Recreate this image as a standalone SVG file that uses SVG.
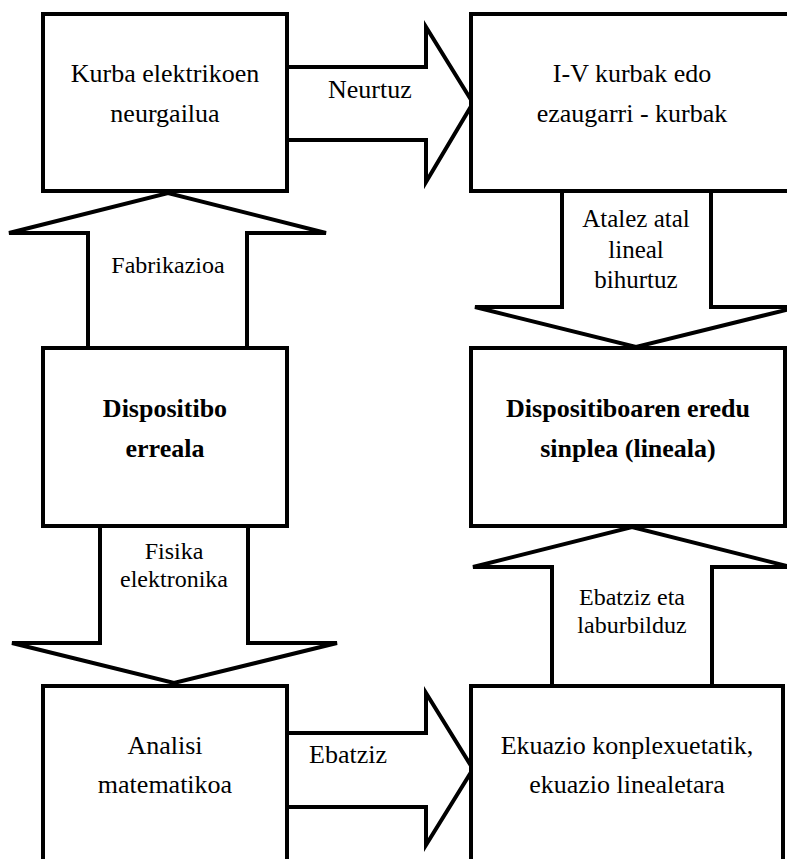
<svg xmlns="http://www.w3.org/2000/svg" width="787" height="859" viewBox="0 0 787 859">
  <style>
    .box { fill: #ffffff; stroke: #000000; stroke-width: 4; }
    .arrow { fill: #ffffff; stroke: #000000; stroke-width: 4; stroke-linejoin: miter; }
    text { font-family: "Tinos", "Times New Roman", "Times", "Liberation Serif", "Noto Serif", "DejaVu Serif", serif; fill: #000000; }
    .t { font-size: 26px; text-anchor: middle; }
    .b { font-size: 26px; font-weight: bold; text-anchor: middle; }
    .l { font-size: 24px; text-anchor: middle; }
    .la { font-size: 25px; text-anchor: middle; }
    .ls { font-size: 26px; text-anchor: start; }
  </style>
  <rect x="0" y="0" width="787" height="859" fill="#ffffff"/>
  <g id="connectors">
    <g id="arrow-neurtuz">
      <polygon class="arrow" points="287,67 426,67 426,27 473,103 426,182 426,140 287,140"/>
      <text class="ls" x="328" y="98">Neurtuz</text>
    </g>
    <g id="arrow-fabrikazioa">
      <polygon class="arrow" points="88,348 88,233 9,233 168,193 326,233 247,233 247,348"/>
      <text class="l" x="168" y="273">Fabrikazioa</text>
    </g>
    <g id="arrow-atalez">
      <polygon class="arrow" points="562,191 562,307 475,307 636,347 798,307 711,307 711,191"/>
      <text class="la" x="636" y="227">Atalez atal</text>
      <text class="la" x="636" y="258">lineal</text>
      <text class="la" x="636" y="288">bihurtuz</text>
    </g>
    <g id="arrow-fisika">
      <polygon class="arrow" points="100,526 100,643 12,643 174,683 337,643 248,643 248,526"/>
      <text class="l" x="174" y="559">Fisika</text>
      <text class="l" x="174" y="587">elektronika</text>
    </g>
    <g id="arrow-ebatziz-eta">
      <polygon class="arrow" points="552,686 552,567 473,567 632,527 791,567 712,567 712,686"/>
      <text class="l" x="632" y="605">Ebatziz eta</text>
      <text class="l" x="632" y="633">laburbilduz</text>
    </g>
    <g id="arrow-ebatziz">
      <polygon class="arrow" points="287,733 426,733 426,693 473,769 426,845 426,807 287,807"/>
      <text class="ls" x="309" y="763">Ebatziz</text>
    </g>
  </g>
  <g id="node-kurba">
    <rect class="box" x="43" y="14" width="244" height="177"/>
    <text class="t" x="165" y="82">Kurba elektrikoen</text>
    <text class="t" x="165" y="122">neurgailua</text>
  </g>
  <g id="node-iv">
    <rect class="box" x="471" y="14" width="322" height="177"/>
    <text class="t" x="632" y="82">I-V kurbak edo</text>
    <text class="t" x="632" y="122">ezaugarri - kurbak</text>
  </g>
  <g id="node-dispositibo">
    <rect class="box" x="43" y="348" width="244" height="178"/>
    <text class="b" x="165" y="417">Dispositibo</text>
    <text class="b" x="165" y="457">erreala</text>
  </g>
  <g id="node-eredu">
    <rect class="box" x="471" y="348" width="314" height="178"/>
    <text class="b" x="628" y="417">Dispositiboaren eredu</text>
    <text class="b" x="628" y="457">sinplea (lineala)</text>
  </g>
  <g id="node-analisi">
    <rect class="box" x="43" y="686" width="244" height="200"/>
    <text class="t" x="165" y="754">Analisi</text>
    <text class="t" x="165" y="793">matematikoa</text>
  </g>
  <g id="node-ekuazio">
    <rect class="box" x="471" y="686" width="312" height="200"/>
    <text class="t" x="627" y="754">Ekuazio konplexuetatik,</text>
    <text class="t" x="627" y="793">ekuazio linealetara</text>
  </g>
</svg>
